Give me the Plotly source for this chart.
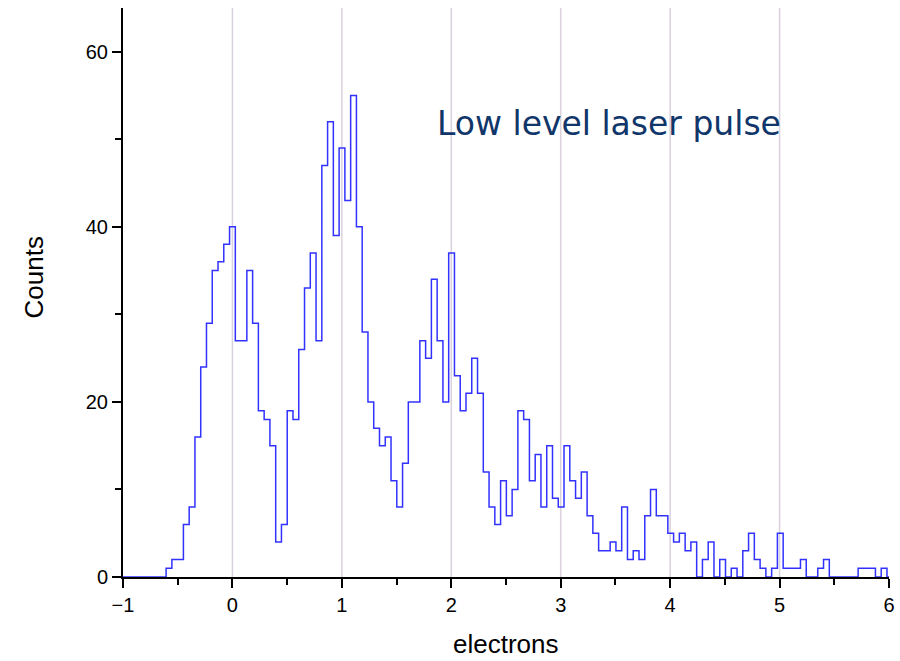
import plotly.graph_objects as go

# Histogram of single-photoelectron response: bin layout and counts per bin
bin_start = -0.606
bin_width = 0.0527
counts = [
    1, 2, 2, 6, 8, 16, 24, 29, 35, 36, 38, 40, 27, 27, 35, 29, 19, 18, 15, 4,
    6, 19, 18, 26, 33, 37, 27, 47, 52, 39, 49, 43, 55, 40, 28, 20, 17, 15, 16, 11,
    8, 13, 20, 20, 27, 25, 34, 27, 20, 37, 23, 19, 21, 25, 21, 12, 8, 6, 11, 7,
    10, 19, 18, 11, 14, 8, 15, 9, 8, 15, 11, 9, 12, 7, 5, 3, 3, 4, 3, 8,
    2, 3, 2, 7, 10, 7, 7, 5, 4, 5, 3, 4, 0, 2, 4, 0, 2, 0, 1, 0,
    3, 5, 2, 1, 0, 1, 5, 1, 1, 1, 2, 0, 0, 1, 2, 0, 0, 0, 0, 0,
    1, 1, 1, 0, 1,
]
x_range = [-1, 6]
y_range = [0, 65]
x_ticks = [-1, 0, 1, 2, 3, 4, 5, 6]
y_ticks = [0, 20, 40, 60]
grid_at = [0, 1, 2, 3, 4, 5]
label_text = "Low level laser pulse"
x_title = "electrons"
y_title = "Counts"

# Step outline: flat zero from the axis start, one step per bin, back to zero
edges = [bin_start + i * bin_width for i in range(len(counts) + 1)]
xs = [x_range[0]] + edges + [x_range[1]]
ys = [0] + counts + [0, 0]

fig = go.Figure()
fig.add_trace(go.Scatter(
    x=xs, y=ys, mode="lines", line_shape="hv",
    line=dict(color="#3232ff", width=1.5),
    hoverinfo="skip", showlegend=False,
))

for g in grid_at:
    fig.add_shape(type="line", xref="x", yref="paper", x0=g, x1=g, y0=0, y1=1,
                  line=dict(color="#d9d2dc", width=1.5), layer="below")

sans = "Liberation Sans, Arial, sans-serif"
axis_font = dict(family=sans, size=20, color="#000000")
title_font = dict(family=sans, size=26, color="#000000")

fig.update_xaxes(
    range=x_range, tickvals=x_ticks, ticks="outside", ticklen=9, tickwidth=2,
    tickcolor="black", showline=True, linecolor="black", linewidth=2,
    showgrid=False, zeroline=False, tickfont=axis_font,
    minor=dict(dtick=0.5, tick0=0, ticks="outside", ticklen=6, tickwidth=2, tickcolor="black"),
    automargin=False,
)
fig.update_yaxes(
    range=y_range, tickvals=y_ticks, ticks="outside", ticklen=9, tickwidth=2,
    tickcolor="black", showline=True, linecolor="black", linewidth=2,
    showgrid=False, zeroline=False, tickfont=axis_font,
    minor=dict(dtick=10, tick0=0, ticks="outside", ticklen=6, tickwidth=2, tickcolor="black"),
    automargin=False,
)

# Axis titles
fig.add_annotation(x=0.5, y=-0.118, xref="paper", yref="paper", text=x_title,
                   showarrow=False, xanchor="center", yanchor="middle", font=title_font)
fig.add_annotation(x=-0.1162, y=0.5264, xref="paper", yref="paper", text=y_title,
                   showarrow=False, xanchor="center", yanchor="middle",
                   textangle=-90, font=title_font)

fig.add_annotation(
    x=3.438, y=51.75, xref="x", yref="y", text=label_text, showarrow=False,
    xanchor="center", yanchor="middle",
    font=dict(family="DejaVu Sans, Verdana, sans-serif", size=33, color="#11366a"),
)

fig.update_layout(
    width=900, height=661,
    margin=dict(l=123, r=11, t=8, b=84),
    paper_bgcolor="white", plot_bgcolor="white",
)

fig.write_html("out.html")
